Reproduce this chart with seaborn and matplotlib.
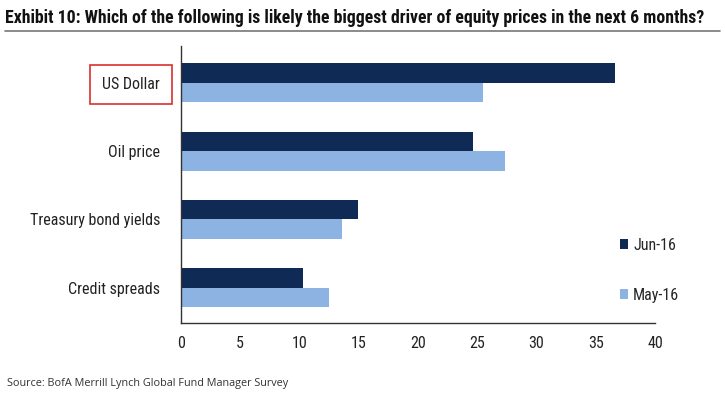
import matplotlib
matplotlib.use("Agg")
import matplotlib.pyplot as plt
import seaborn as sns
import pandas as pd
from matplotlib.patches import Patch

# Data
drivers = ["US Dollar", "Oil price", "Treasury bond yields", "Credit spreads"]
jun_16 = [36.6, 24.6, 14.9, 10.3]
may_16 = [25.5, 27.3, 13.6, 12.5]
series = ["Jun-16", "May-16"]
colors = ["#0F2B55", "#8DB3E2"]
x_ticks = [0, 5, 10, 15, 20, 25, 30, 35, 40]

df = pd.DataFrame({
    "driver": drivers * 2,
    "value": jun_16 + may_16,
    "series": [series[0]] * len(drivers) + [series[1]] * len(drivers),
})

sns.set_style("white")
narrow = ["Roboto Condensed", "DejaVu Sans"]
plt.rcParams["font.family"] = narrow

fig = plt.figure(figsize=(7.25, 3.98), dpi=100)
ax = fig.add_axes([181 / 725, 1 - 323 / 398, (655 - 181) / 725, (323 - 46) / 398])

sns.barplot(data=df, x="value", y="driver", hue="series", order=drivers,
            hue_order=series, palette=colors, orient="h", width=0.57,
            gap=0, saturation=1, linewidth=0, ax=ax, legend=False)

ax.set_xlim(0, 40)
ax.set_ylim(3.52, -0.54)
ax.set_xticks(x_ticks)
ax.set_xticklabels([str(t) for t in x_ticks], fontsize=11.5, color="#222222")
ax.set_xlabel("")
ax.set_ylabel("")

# category labels sit between boundary tick marks
ax.set_yticks(range(len(drivers)))
ax.set_yticklabels(drivers, fontsize=11.5, color="#222222")
ax.tick_params(axis="y", which="major", length=0, pad=15)
ax.set_yticks([0.5, 1.5, 2.5], minor=True)
ax.tick_params(axis="y", which="minor", length=5, width=1, color="#333333", direction="out")
ax.tick_params(axis="x", length=5, width=1, color="#333333", direction="out", pad=4)

for side in ["top", "right"]:
    ax.spines[side].set_visible(False)
for side in ["left", "bottom"]:
    ax.spines[side].set_color("#333333")
    ax.spines[side].set_linewidth(1)

# red box around US Dollar
lbl = ax.get_yticklabels()[0]
lbl.set_bbox(dict(boxstyle="square,pad=0.75", facecolor="none", edgecolor="#D9302C", linewidth=1.2))

handles = [Patch(facecolor=c, edgecolor="none") for c in colors]
leg = ax.legend(handles, series, loc="center left", bbox_to_anchor=(0.895, 0.19),
                frameon=False, fontsize=11.5, handlelength=0.55, handleheight=0.55,
                handletextpad=0.3, labelspacing=2.2)

fig.text(0.007, 0.955, "Exhibit 10: Which of the following is likely the biggest driver of equity prices in the next 6 months?",
         fontsize=12.8, fontweight="bold", color="#111111", family=narrow, va="center")
fig.add_artist(plt.Line2D([0.007, 0.993], [0.923, 0.923], color="#777777", linewidth=1.2))
fig.text(0.01, 0.037, "Source: BofA Merrill Lynch Global Fund Manager Survey",
         fontsize=7.8, color="#333333", family=["Open Sans", "DejaVu Sans"], va="center")

fig.savefig("out.png", dpi=100)
